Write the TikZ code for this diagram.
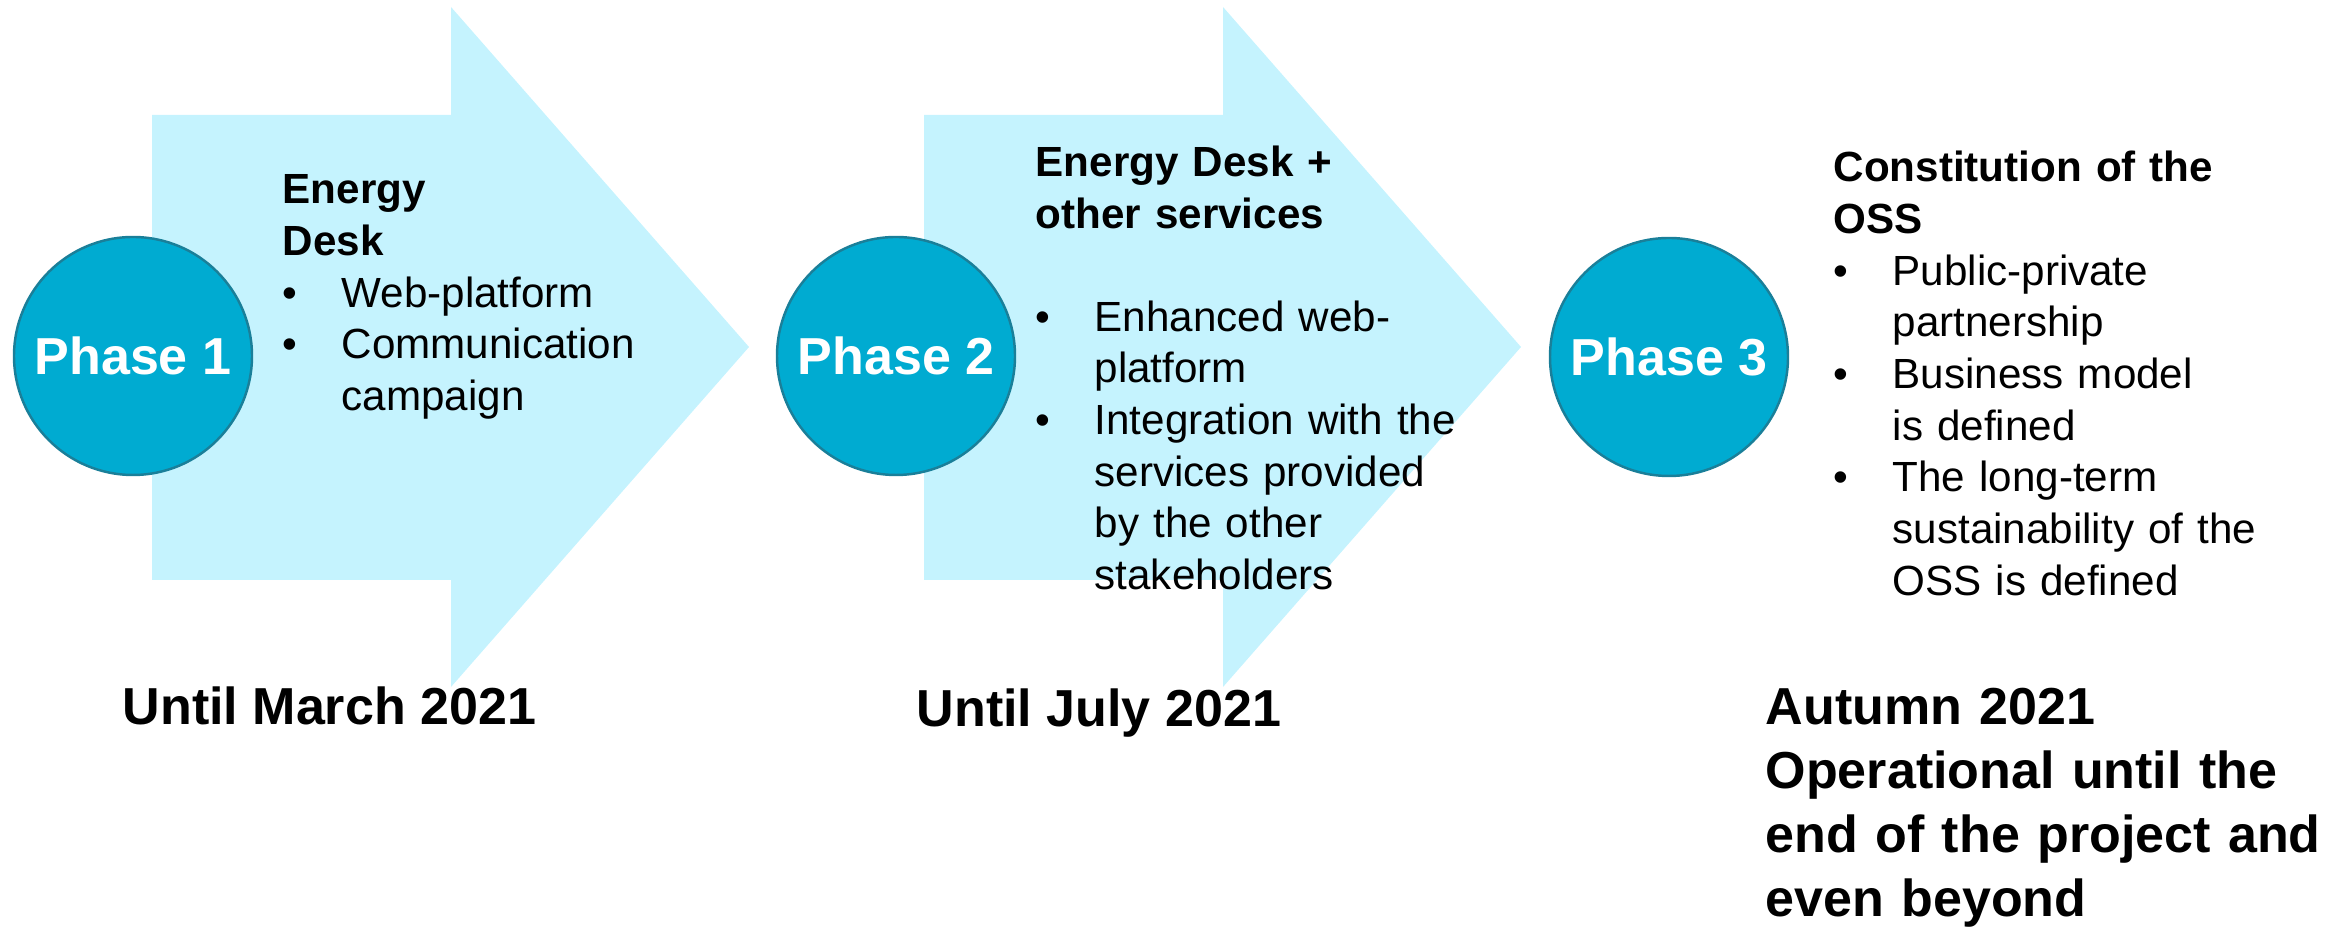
\documentclass[tikz,border=0pt]{standalone}
\usepackage{fontspec}
\setmainfont{Liberation Sans}
\usepackage{tikz}
\usepackage{xcolor}
\usetikzlibrary{positioning}
\definecolor{pBlue}{HTML}{00ABD1}
\definecolor{pEdge}{HTML}{1A7F99}
\definecolor{pSky}{HTML}{C5F3FE}
% bullet and hanging indent for the item lists
\newcommand{\itm}{\makebox[0.59cm][l]{\textbullet}}
\newcommand{\ind}{\hspace*{0.59cm}}

\begin{document}
\begin{tikzpicture}[
  phase/.style={circle, fill=pBlue, draw=pEdge, line width=0.7pt,
                minimum size=2.38cm, inner sep=0pt, text=white,
                font=\fontsize{14.8}{17}\selectfont\bfseries},
  info/.style={anchor=base west, inner sep=0pt, align=left,
               text width=5.2cm, font=\fontsize{12}{14.7}\selectfont},
  when/.style={anchor=base west, inner sep=0pt, align=left,
               font=\fontsize{14.8}{18.2}\selectfont\bfseries},
]
  \useasboundingbox (0,0) rectangle (23.43,9.33);

  % the two big arrows behind phases 1 and 2
  \foreach \x in {1.52, 9.24}
    \fill[pSky] (\x,8.18) -- ++(2.99,0) -- ++(0,1.08) -- ++(2.98,-3.40)
      -- ++(-2.98,-3.40) -- ++(0,1.07) -- ++(-2.99,0) -- cycle;

  \node[phase] (p1) at ( 1.33, 5.77) {Phase 1};
  \node[phase] (p2) at ( 8.96, 5.77) {Phase 2};
  \node[phase] (p3) at (16.69, 5.76) {Phase 3};

  \node[info] (t1) at ( 2.82, 7.29) {
    \textbf{Energy}\\
    \textbf{Desk}\\
    \itm Web-platform\\
    \itm Communication\\
    \ind campaign};
  \node[info] (t2) at (10.35, 7.56) {
    \textbf{Energy Desk +}\\
    \textbf{other services}\\[0.51cm]
    \itm Enhanced web-\\
    \ind platform\\
    \itm Integration with the\\
    \ind services provided\\
    \ind by the other\\
    \ind stakeholders};
  \node[info] (t3) at (18.33, 7.51) {
    \textbf{Constitution of the}\\
    \textbf{OSS}\\
    \itm Public-private\\
    \ind partnership\\
    \itm Business model\\
    \ind is defined\\
    \itm The long-term\\
    \ind sustainability of the\\
    \ind OSS is defined};

  % dates under each phase
  \node[when] (d1) at ( 1.22, 2.08) {Until March 2021};
  \node[when] (d2) at ( 9.16, 2.06) {Until July 2021};
  \node[when, text width=6cm] (d3) at (17.65, 2.08) {Autumn 2021\\
    Operational until the\\
    end of the project and\\
    even beyond};
\end{tikzpicture}
\end{document}
